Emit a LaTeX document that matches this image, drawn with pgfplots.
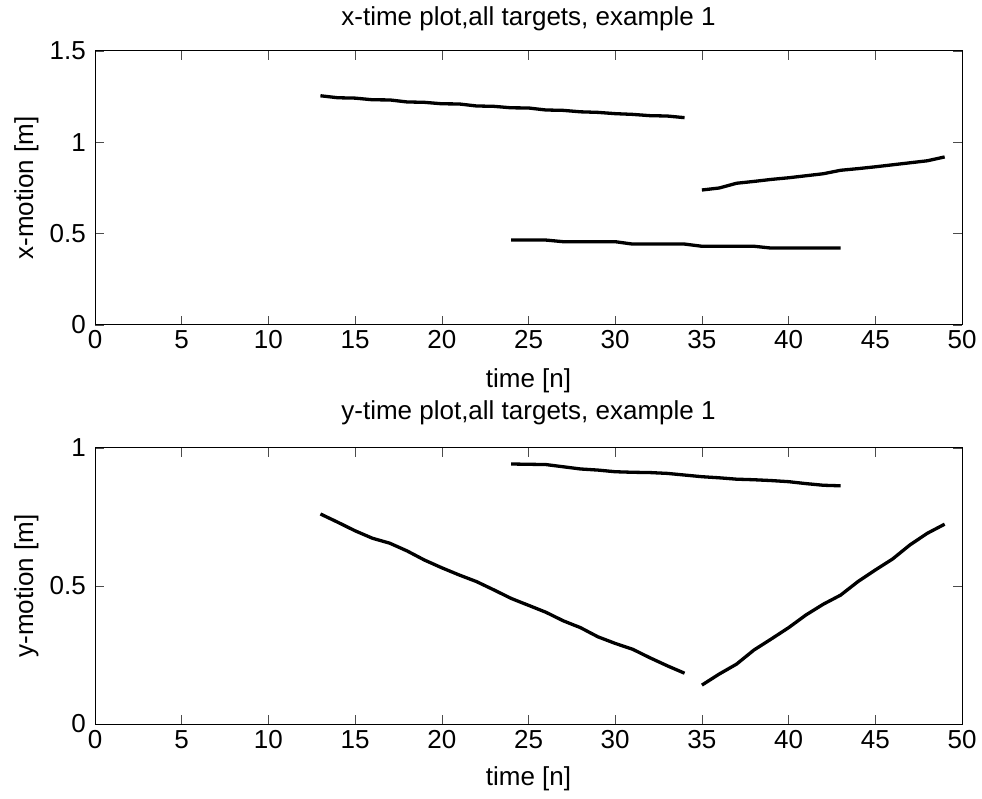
\documentclass[border=0pt]{standalone}
\usepackage{fontspec}
\setmainfont{Liberation Sans}
\usepackage{pgfplots}
\pgfplotsset{compat=1.18}
\begin{document}
\begin{tikzpicture}
\path[use as bounding box] (0pt,0pt) rectangle (982pt,798pt);
\pgfplotsset{
  dl/.style={black, line width=3.3pt, no marks, line join=round, line cap=butt},
  mystyle/.style={
    scale only axis,
    width=867pt,
    xmin=0, xmax=50,
    xtick={0,5,...,50},
    font=\fontsize{26}{31}\selectfont,
    /pgf/number format/assume math mode=true,
    tick align=inside,
    major tick length=8.7pt,
    tick style={black!70, line width=0.6pt},
    axis line style={black, line width=1pt},
    xticklabel style={anchor=base, yshift=-24pt, inner sep=0pt},
    yticklabel style={anchor=east, xshift=-9pt, inner sep=0pt},
    cycle list={{dl}},
  }
}
% top axis
\begin{axis}[mystyle,
  at={(95pt,473pt)}, anchor=south west,
  height=274pt,
  ymin=0, ymax=1.5,
  ytick={0,0.5,1,1.5},
  title={x-time plot,all targets, example 1},
  title style={at={(axis description cs:0.5,1.07)}, anchor=base, inner sep=0pt},
  xlabel={time [n]},
  xlabel style={at={(axis description cs:0.5,-0.2263)}, anchor=base, inner sep=0pt},
  ylabel={x-motion [m]},
  ylabel style={at={(axis description cs:-0.0715,0.5)}, anchor=base, inner sep=0pt},
]
\addplot[dl] coordinates {(13,1.255)(14,1.244)(15,1.242)(16,1.233)(17,1.232)(18,1.221)(19,1.219)(20,1.211)(21,1.210)(22,1.199)(23,1.197)(24,1.189)(25,1.188)(26,1.177)(27,1.175)(28,1.167)(29,1.164)(30,1.157)(31,1.153)(32,1.146)(33,1.144)(34,1.135)};
\addplot[dl] coordinates {(35,0.739)(36,0.750)(37,0.776)(38,0.786)(39,0.797)(40,0.806)(41,0.817)(42,0.828)(43,0.847)(44,0.856)(45,0.866)(46,0.877)(47,0.888)(48,0.899)(49,0.920)};
\addplot[dl] coordinates {(24,0.465)(25,0.465)(26,0.465)(27,0.456)(28,0.456)(29,0.456)(30,0.456)(31,0.443)(32,0.443)(33,0.443)(34,0.443)(35,0.431)(36,0.431)(37,0.431)(38,0.431)(39,0.421)(40,0.421)(41,0.421)(42,0.421)(43,0.421)};
\end{axis}
% bottom axis
\begin{axis}[mystyle,
  at={(95pt,74pt)}, anchor=south west,
  height=276pt,
  ymin=0, ymax=1,
  ytick={0,0.5,1},
  title={y-time plot,all targets, example 1},
  title style={at={(axis description cs:0.5,1.08)}, anchor=base, inner sep=0pt},
  xlabel={time [n]},
  xlabel style={at={(axis description cs:0.5,-0.2246)}, anchor=base, inner sep=0pt},
  ylabel={y-motion [m]},
  ylabel style={at={(axis description cs:-0.0715,0.5)}, anchor=base, inner sep=0pt},
]
\addplot[dl] coordinates {(24,0.942)(25,0.941)(26,0.940)(27,0.932)(28,0.924)(29,0.920)(30,0.914)(31,0.912)(32,0.911)(33,0.908)(34,0.902)(35,0.896)(36,0.892)(37,0.887)(38,0.885)(39,0.882)(40,0.878)(41,0.871)(42,0.865)(43,0.863)};
\addplot[dl] coordinates {(13,0.761)(14,0.731)(15,0.700)(16,0.673)(17,0.655)(18,0.627)(19,0.594)(20,0.566)(21,0.540)(22,0.516)(23,0.486)(24,0.455)(25,0.430)(26,0.405)(27,0.374)(28,0.349)(29,0.316)(30,0.292)(31,0.271)(32,0.240)(33,0.211)(34,0.184)};
\addplot[dl] coordinates {(35,0.141)(36,0.181)(37,0.217)(38,0.268)(39,0.308)(40,0.349)(41,0.395)(42,0.434)(43,0.467)(44,0.516)(45,0.558)(46,0.598)(47,0.649)(48,0.691)(49,0.724)};
\end{axis}
\end{tikzpicture}
\end{document}
